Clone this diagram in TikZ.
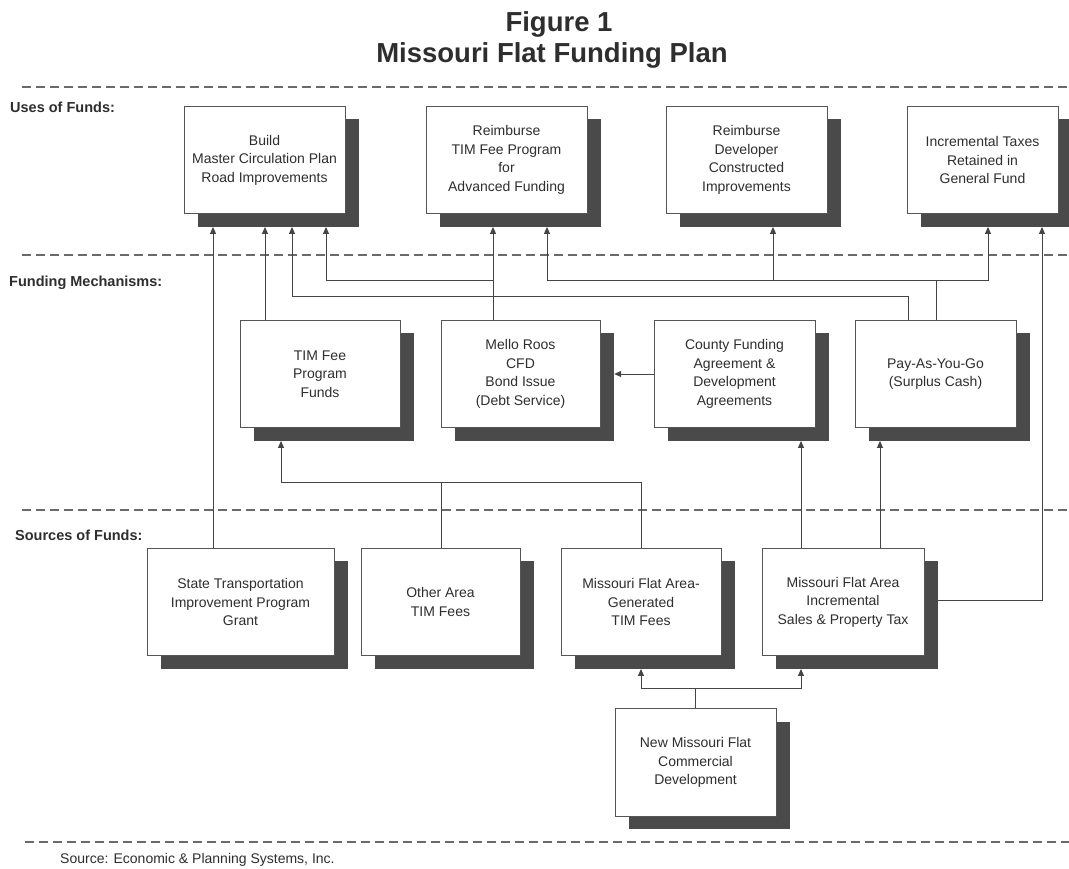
\documentclass[tikz,border=0pt]{standalone}
\usepackage{fontspec}
\setmainfont{Liberation Sans}
\usetikzlibrary{arrows.meta}
\definecolor{inkc}{HTML}{2E2E2E}
\definecolor{shadc}{HTML}{4A4A4A}
\definecolor{edgec}{HTML}{555555}
\definecolor{dashc}{HTML}{6A6A6A}
\definecolor{linec}{HTML}{444444}
\tikzset{
  boxnode/.style={draw=edgec, line width=0.9pt, fill=white, inner sep=0pt,
    minimum height=107.5pt, align=center, text=inkc,
    font=\fontsize{14}{18.5}\selectfont},
  shadnode/.style={fill=shadc, draw=none, inner sep=0pt, minimum height=107.5pt},
  conn/.style={draw=linec, line width=1pt},
  arr/.style={conn, -{Triangle[length=7pt,width=6pt]}},
  sepline/.style={draw=dashc, line width=1.2pt, dash pattern=on 9pt off 5pt},
  rowlabel/.style={anchor=west, inner sep=0pt, text=inkc, font=\bfseries\fontsize{14.5}{17}\selectfont},
}
\newcommand{\mkbox}[5]{%
  \node[shadnode, minimum width=#4] (#1s) at ({#2+14},{#3+13}) {};
  \node[boxnode, minimum width=#4] (#1) at (#2,#3) {#5};}
\begin{document}
\begin{tikzpicture}[x=1pt,y=-1pt]
\useasboundingbox (0,0) rectangle (1069,869);
\fill[white] (0,0) rectangle (1069,869);

% title
\node[anchor=base, inner sep=0pt, text=inkc, font=\bfseries\fontsize{27.5}{32}\selectfont] (t1) at (559,32) {Figure 1};
\node[anchor=base, inner sep=0pt, text=inkc, font=\bfseries\fontsize{27.5}{32}\selectfont] (t2) at (552,63) {Missouri Flat Funding Plan};

% separators
\coordinate (d1a) at (22,87);  \coordinate (d1b) at (1069,87);
\coordinate (d2a) at (22,255); \coordinate (d2b) at (1069,255);
\coordinate (d3a) at (22,510); \coordinate (d3b) at (1069,510);
\coordinate (d4a) at (25,842); \coordinate (d4b) at (1069,842);
\draw[sepline] (d1a) -- (d1b);
\draw[sepline] (d2a) -- (d2b);
\draw[sepline] (d3a) -- (d3b);
\draw[sepline] (d4a) -- (d4b);

% row labels
\node[rowlabel] (l1) at (10,107) {Uses of Funds:};
\node[rowlabel] (l2) at (9,283) {Funding Mechanisms:};
\node[rowlabel] (l3) at (15,535) {Sources of Funds:};
\node[anchor=west, inner sep=0pt, text=inkc, font=\fontsize{14}{17}\selectfont] (src) at (60,860) {Source: Economic \& Planning Systems, Inc.};

% uses
\mkbox{b1}{264.5}{160}{161pt}{Build\\Master Circulation Plan\\Road Improvements}
\mkbox{b2}{506.5}{160}{161pt}{Reimburse\\TIM Fee Program\\for\\Advanced Funding}
\mkbox{b3}{746.5}{160}{161pt}{Reimburse\\Developer\\Constructed\\Improvements}
\mkbox{b4}{982.5}{160}{151pt}{Incremental Taxes\\Retained in\\General Fund}

% mechanisms
\mkbox{m1}{320}{374}{160pt}{TIM Fee\\Program\\Funds}
\mkbox{m2}{520.5}{374}{159pt}{Mello Roos\\CFD\\Bond Issue\\(Debt Service)}
\mkbox{m3}{734.5}{374}{161pt}{County Funding\\Agreement \&\\Development\\Agreements}
\mkbox{m4}{935.5}{374}{161pt}{Pay-As-You-Go\\(Surplus Cash)}

% sources
\mkbox{s1}{240.5}{602}{187pt}{State Transportation\\Improvement Program\\Grant}
\mkbox{s2}{440.5}{602}{159pt}{Other Area\\TIM Fees}
\mkbox{s3}{641}{602}{160pt}{Missouri Flat Area-\\Generated\\TIM Fees}
\mkbox{s4}{843}{602}{162pt}{Missouri Flat Area\\Incremental\\Sales \& Property Tax}

% new development
\mkbox{nd}{695.5}{762.5}{161pt}{New Missouri Flat\\Commercial\\Development}

% routing points
\coordinate (j1) at (292,297);
\coordinate (j2) at (908,297);
\coordinate (j3) at (493,281);
\coordinate (j4) at (326,281);
\coordinate (j5) at (936,281);
\coordinate (j6) at (547,281);
\coordinate (j7) at (988,281);
\coordinate (j8) at (773,281);
\coordinate (j9) at (213,0);
\coordinate (j10) at (265,0);
\coordinate (j11) at (641,482);
\coordinate (j12) at (281,482);
\coordinate (j13) at (441,482);
\coordinate (j14) at (801,0);
\coordinate (j15) at (880,0);
\coordinate (j16) at (1042,600);
\coordinate (j17) at (695,688);
\coordinate (j18) at (641,688);
\coordinate (j19) at (801,688);

% connectors to uses
\draw[arr] (s1.north -| j9) -- (b1s.south -| j9);
\draw[arr] (m1.north -| j10) -- (b1s.south -| j10);
\draw[arr] (m4.north -| j2) -- (j2) -- (j1) -- (b1s.south -| j1);
\draw[arr] (m2.north -| j3) -- (b2s.south -| j3);
\draw[arr] (j3) -- (j4) -- (b1s.south -| j4);
\draw[arr] (m4.north -| j5) -- (j5) -- (j6) -- (b2s.south -| j6);
\draw[arr] (j5) -- (j7) -- (b4s.south -| j7);
\draw[arr] (j8) -- (b3s.south -| j8);
\draw[arr] (j16 -| s4s.east) -- (j16) -- (b4s.south -| j16);

% mechanisms
\draw[arr] (m3.west) -- (m3.west -| m2s.east);
\draw[arr] (s3.north -| j11) -- (j11) -- (j12) -- (m1s.south -| j12);
\draw[conn] (s2.north -| j13) -- (j13);
\draw[arr] (s4.north -| j14) -- (m3s.south -| j14);
\draw[arr] (s4.north -| j15) -- (m4s.south -| j15);

% new development
\draw[conn] (nd.north -| j17) -- (j17);
\draw[arr] (j17) -- (j18) -- (s3s.south -| j18);
\draw[arr] (j17) -- (j19) -- (s4s.south -| j19);
\end{tikzpicture}
\end{document}
